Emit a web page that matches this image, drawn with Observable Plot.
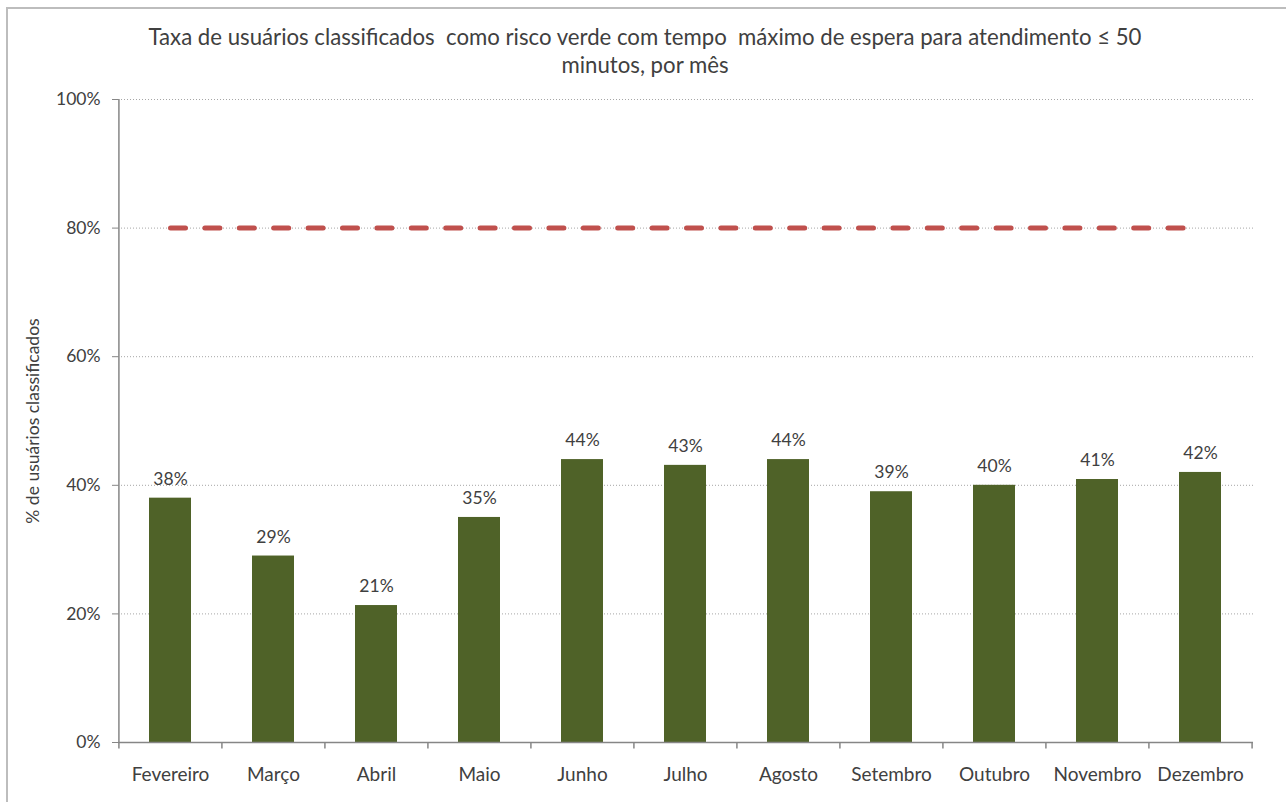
<!DOCTYPE html>
<html><head><meta charset="utf-8">
<script src="https://cdn.jsdelivr.net/npm/d3@7"></script>
<script src="https://cdn.jsdelivr.net/npm/@observablehq/plot@0.6"></script>
<style>
body{margin:0;background:#fff;width:1286px;height:802px;overflow:hidden;position:relative;font-family:Lato,sans-serif}
#border{position:absolute;left:6px;top:7px;width:1300px;height:900px;border-left:2px solid #bdbdbd;border-top:2px solid #bdbdbd}
#title{position:absolute;left:0;top:23px;width:1290px;text-align:center;font-size:22.2px;line-height:28px;color:#404040;white-space:pre}
#chart{position:absolute;left:0;top:85px}
</style></head><body>
<div id="border"></div>
<div id="title">Taxa de usuários classificados  como risco verde com tempo  máximo de espera para atendimento ≤ 50
minutos, por mês</div>
<div id="chart"></div>
<script>
const months = ["Fevereiro","Março","Abril","Maio","Junho","Julho","Agosto","Setembro","Outubro","Novembro","Dezembro"];
const values = [0.38, 0.29, 0.213, 0.35, 0.44, 0.431, 0.44, 0.39, 0.40, 0.409, 0.42];
const labels = ["38%","29%","21%","35%","44%","43%","44%","39%","40%","41%","42%"];
const target = 0.8;
const yTicks = [0, 0.2, 0.4, 0.6, 0.8, 1];
const yLabel = "% de usuários classificados";

const data = months.map((m, i) => ({month: m, value: values[i], label: labels[i]}));
const W = 1286, H = 717, ML = 118, MR = 33, MT = 14, MB = 60;
const step = (W - ML - MR) / months.length;
const axisColor = "#868686";
const plot = Plot.plot({
  width: W, height: H, marginLeft: ML, marginRight: MR, marginTop: MT, marginBottom: MB,
  style: {fontFamily: "Lato, sans-serif", fontSize: "17.5px", color: "#404040", background: "transparent", overflow: "visible"},
  x: {domain: months, paddingInner: 0.59, paddingOuter: 0.295, label: null},
  y: {domain: [0, 1], label: null},
  marks: [
    Plot.ruleY(yTicks.filter(d => d > 0), {stroke: "#a6a6a6", strokeDasharray: "1,2"}),
    Plot.barY(data, {x: "month", y: "value", fill: "#4F6228"}),
    Plot.ruleY([0], {stroke: axisColor, strokeWidth: 1.5}),
    Plot.ruleX([months[0]], {x: d => d, dx: -step / 2, stroke: axisColor, strokeWidth: 1.5}),
    Plot.ruleX(months, {x: d => d, dx: -step / 2, y1: 0, y2: -0.01, stroke: axisColor, strokeWidth: 1.5}),
    Plot.ruleX([months[months.length - 1]], {x: d => d, dx: step / 2, y1: 0, y2: -0.01, stroke: axisColor, strokeWidth: 1.5}),
    Plot.lineY(months, {x: d => d, y: () => target, stroke: "#C0504D", strokeWidth: 5, strokeDasharray: "15,19.4", strokeLinecap: "round"}),
    Plot.text(data, {x: "month", y: "value", text: "label", dy: -19, fontSize: 17.5, fill: "#404040"}),
    Plot.axisY({ticks: yTicks, tickFormat: d3.format(".0%"), tickSize: 6, tickPadding: 12, stroke: axisColor, fill: "#404040", fontSize: 17.5,
      label: yLabel, labelAnchor: "center", labelOffset: 92, labelArrow: "none"}),
    Plot.axisX({tickSize: 0, tickPadding: 25, fill: "#404040", fontSize: 19, label: null})
  ]
});
document.getElementById("chart").appendChild(plot);
</script>
</body></html>
